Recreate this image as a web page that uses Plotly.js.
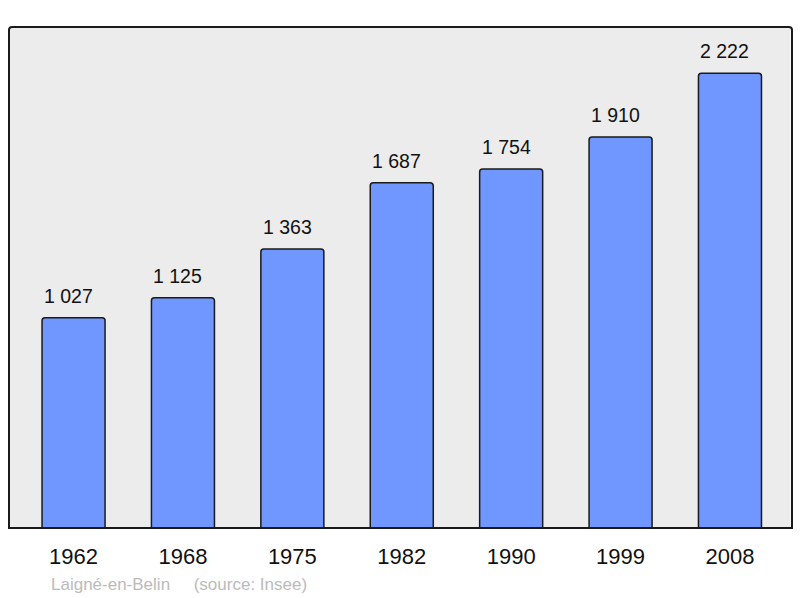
<!DOCTYPE html>
<html><head><meta charset="utf-8">
<script src="https://cdn.plot.ly/plotly-3.0.1.min.js"></script>
<style>body{margin:0;background:#fff}#c{width:800px;height:598px}</style>
</head><body><div id="c"></div>
<script>
const years = ["1962","1968","1975","1982","1990","1999","2008"];
const population = [1027,1125,1363,1687,1754,1910,2222];
const labels = ["1 027","1 125","1 363","1 687","1 754","1 910","2 222"];
const idx = years.map((_,i)=>i);
const FONT = 'Liberation Sans, Arial, sans-serif';

const trace = {
  type:'bar', x: idx, y: population, width: 0.576,
  marker:{color:'#7096ff', line:{color:'#1a1a1a', width:1.5}, cornerradius:3},
  hoverinfo:'none'
};
const valueAnn = idx.map(i=>({x:i, y:population[i], xref:'x', yref:'y', text:labels[i], showarrow:false,
  xanchor:'center', yanchor:'middle', yshift:22, xshift:-5,
  font:{family:FONT, size:19.5, color:'#111'}}));
const layout = {
  width:800, height:598,
  margin:{l:9, r:8, t:27, b:70},
  paper_bgcolor:'#fff', plot_bgcolor:'rgba(0,0,0,0)',
  showlegend:false,
  xaxis:{range:[-0.59,6.567], tickvals: idx, ticktext: years, showgrid:false, zeroline:false,
    showline:false, ticks:'', tickfont:{family:FONT, size:22, color:'#111'}, ticklabelstandoff:13},
  yaxis:{range:[0,2448], visible:false, showgrid:false, zeroline:false},
  shapes:[{type:'path', xref:'paper', yref:'paper', layer:'below',
    path:'M 0.002,0 L 0.998,0 L 0.998,0.996 Q 0.998,1 0.995,1 L 0.004,1 Q 0.001,1 0.001,0.996 L 0.001,0 Z',
    fillcolor:'#ececec', line:{width:0}},
    {type:'path', xref:'paper', yref:'paper', layer:'above',
    path:'M 0,0 L 1,0 L 1,0.994 Q 1,1 0.996,1 L 0.004,1 Q 0,1 0,0.994 Z',
    fillcolor:'rgba(0,0,0,0)', line:{width:2, color:'#1a1a1a'}}],
  annotations: valueAnn.concat([{xref:'paper', yref:'paper', x:0.0512, y:-0.112, xanchor:'left', yanchor:'middle', showarrow:false,
    text:'Laigné-en-Belin &nbsp;&nbsp;&nbsp;&nbsp;(source: Insee)',
    font:{family:FONT, size:17, color:'#bbbbbb'}}])
};
Plotly.newPlot('c',[trace],layout,{staticPlot:true});
</script></body></html>
